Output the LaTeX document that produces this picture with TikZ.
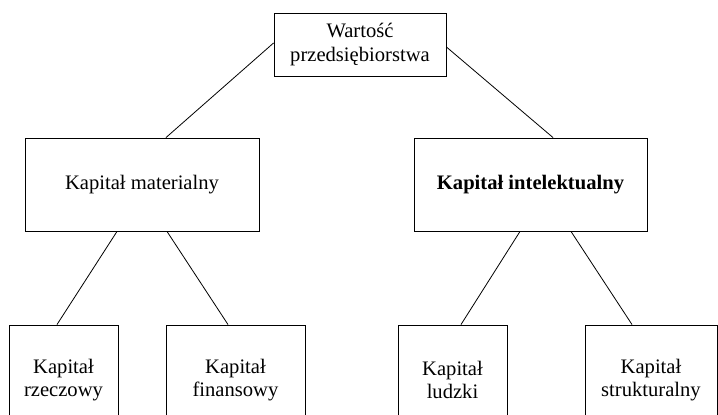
\documentclass[tikz,border=0pt]{standalone}
\usepackage{fontspec}
\setmainfont{Liberation Serif}
\usetikzlibrary{calc}
\begin{document}
\begin{tikzpicture}[x=1pt,y=-1pt,
  box/.style={draw, line width=0.9pt, rectangle, inner sep=0pt, align=center,
    font=\fontsize{20.6}{23.5}\selectfont},
  link/.style={line width=0.8pt}]
\useasboundingbox (0,0) rectangle (718,415);
\clip (0,0) rectangle (718,415);
\node[box, minimum width=172, minimum height=63] (top) at (360,44.5) {Wartość\\przedsiębiorstwa};
\node[box, minimum width=234, minimum height=93] (ml) at (142,184.5) {Kapitał materialny};
\node[box, minimum width=233, minimum height=93, font=\fontsize{20.6}{23.5}\selectfont\bfseries] (mr) at (530.5,184.5) {Kapitał intelektualny};
\node[box, minimum width=109, minimum height=110] (b1) at (63.5,380) {Kapitał\\rzeczowy};
\node[box, minimum width=139, minimum height=110] (b2) at (235.5,380) {Kapitał\\finansowy};
\node[box, minimum width=109, minimum height=110] (b3) at (452.5,380) {Kapitał\\ludzki};
\node[box, minimum width=132, minimum height=110] (b4) at (651,380) {Kapitał\\strukturalny};
\draw[link] ([yshift=1.5]top.west) -- ([xshift=24]ml.north);
\draw[link] ([yshift=-2.5]top.east) -- ([xshift=22.5]mr.north);
\draw[link] ([xshift=-25]ml.south) -- ([xshift=-6.5]b1.north);
\draw[link] ([xshift=25]ml.south) -- ([xshift=-7.5]b2.north);
\draw[link] ([xshift=-10.5]mr.south) -- ([xshift=8.5]b3.north);
\draw[link] ([xshift=40.5]mr.south) -- ([xshift=-19]b4.north);
\end{tikzpicture}
\end{document}
